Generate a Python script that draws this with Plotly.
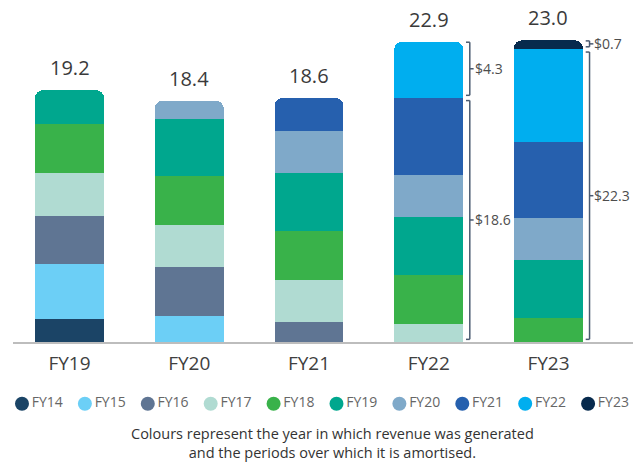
import plotly.graph_objects as go

# ---------------- data ----------------
bars = ["FY19", "FY20", "FY21", "FY22", "FY23"]
years = ["FY14", "FY15", "FY16", "FY17", "FY18", "FY19", "FY20", "FY21", "FY22", "FY23"]
year_colors = ["#1b4466", "#6ccff6", "#5f7593", "#b0dbd2", "#39b24a",
               "#00a78e", "#7fa9c9", "#2660ae", "#00aeef", "#072a4d"]

# revenue recognised in each bar-year, split by the year it was generated
fy14 = [1.78, None, None, None, None]
fy15 = [4.19, 1.99, None, None, None]
fy16 = [3.66, 3.71, 1.52, None, None]
fy17 = [3.28, 3.18, 3.19, 1.37, None]
fy18 = [3.72, 3.76, 3.72, 3.73, 1.80]
fy19 = [2.57, 4.37, 4.48, 4.42, 4.48]
fy20 = [None, 1.39, 3.17, 3.19, 3.19]
fy21 = [None, None, 2.52, 5.89, 5.77]
fy22 = [None, None, None, 4.30, 7.06]
fy23 = [None, None, None, None, 0.70]
series = [fy14, fy15, fy16, fy17, fy18, fy19, fy20, fy21, fy22, fy23]
totals = [19.2, 18.4, 18.6, 22.9, 23.0]
bracket_bars = ["FY22", "FY23"]

caption = "Colours represent the year in which revenue was generated<br>and the periods over which it is amortised."

# ---------------- styling ----------------
FONT = "Open Sans, sans-serif"
BAR_W = 0.576
BR_COLOR = "#4a5a70"

fig = go.Figure()
for name, vals, col in zip(years, series, year_colors):
    fig.add_trace(go.Bar(x=bars, y=vals, name=name, marker=dict(color=col, line=dict(width=0)),
                         width=BAR_W, showlegend=False, hoverinfo="y+name"))

# pseudo legend (circles + labels) on an auxiliary axis
fig.add_trace(go.Scatter(x=years, y=[0] * len(years), xaxis="x2", yaxis="y2",
                         mode="markers+text", text=years, textposition="middle right",
                         marker=dict(color=year_colors, size=14, symbol="circle"),
                         textfont=dict(family=FONT, size=14, color="#666666"),
                         showlegend=False, hoverinfo="skip", cliponaxis=False))

shapes = []
annotations = []

# totals above bars
for b, t in zip(bars, totals):
    annotations.append(dict(x=b, y=t, xref="x", yref="y", text=f"{t:.1f}", showarrow=False,
                            xanchor="center", yanchor="bottom", yshift=7,
                            font=dict(family=FONT, size=20, color="#3a3a3a")))

# brackets
for b in bracket_bars:
    i = bars.index(b)
    yi = years.index(b)
    cur = series[yi][i]
    earlier = round(sum(s[i] for s in series[:yi] if s[i] is not None), 2)
    tot = earlier + cur
    xl = i + BAR_W / 2 + 0.055
    tick = 0.032
    g = 0.2
    for (y0, y1, val) in [(g, earlier - g, earlier), (earlier + g, tot - 0.05, cur)]:
        line = dict(color=BR_COLOR, width=1.5)
        shapes.append(dict(type="line", xref="x", yref="y", x0=xl, x1=xl, y0=y0, y1=y1, line=line))
        shapes.append(dict(type="line", xref="x", yref="y", x0=xl - tick, x1=xl, y0=y0, y1=y0, line=line))
        shapes.append(dict(type="line", xref="x", yref="y", x0=xl - tick, x1=xl, y0=y1, y1=y1, line=line))
        ym = (y0 + y1) / 2
        shapes.append(dict(type="line", xref="x", yref="y", x0=xl, x1=xl + tick, y0=ym, y1=ym, line=line))
        annotations.append(dict(x=xl + tick, y=ym, xref="x", yref="y", text=f"${val:.1f}",
                                showarrow=False, xanchor="left", yanchor="middle", xshift=-1,
                                font=dict(family=FONT, size=14, color="#4d4d4d")))

annotations.append(dict(x=0.516, y=0.089, xref="paper", yref="paper", text=caption,
                        showarrow=False, xanchor="center", yanchor="top", align="center",
                        font=dict(family=FONT, size=14.5, color="#333333")))

fig.update_layout(
    width=636, height=462,
    margin=dict(l=13, r=3, t=14, b=0),
    barmode="stack", barcornerradius=8,
    paper_bgcolor="white", plot_bgcolor="white",
    font=dict(family=FONT, color="#444444"),
    showlegend=False,
    shapes=shapes, annotations=annotations,
    xaxis=dict(type="category", range=[-0.472, 4.706], showgrid=False, zeroline=False,
               showline=True, linecolor="#bdbdbd", linewidth=1.5, ticks="", ticklabelstandoff=3,
               tickfont=dict(family=FONT, size=19, color="#404040")),
    yaxis=dict(domain=[0.2679, 1.0], range=[0, 25.0], visible=False, showgrid=False, zeroline=False),
    xaxis2=dict(type="category", domain=[0, 1], anchor="y2", range=[-0.143, 9.714], visible=False),
    yaxis2=dict(domain=[0.10, 0.16], range=[-1, 1], visible=False),
)

fig.write_html("out.html", config={"displayModeBar": False},
               post_script="document.body.style.margin='0px';")
